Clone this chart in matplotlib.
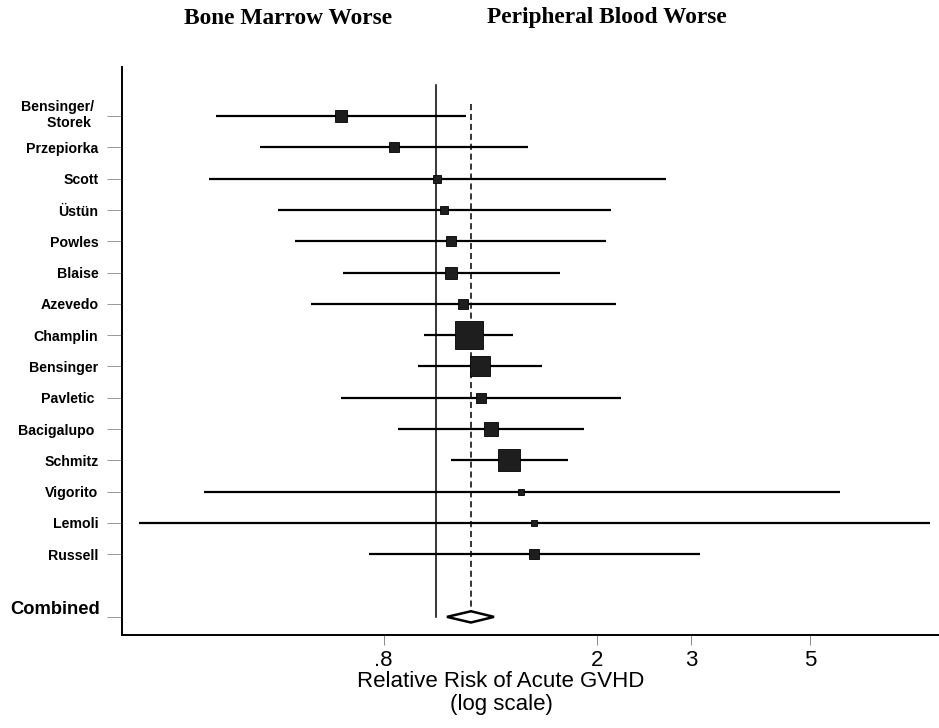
import matplotlib
matplotlib.use('Agg')
import matplotlib.pyplot as plt
from matplotlib.ticker import FixedLocator, NullLocator
import matplotlib.transforms as mtransforms
import numpy as np

studies = ['Bensinger/ \nStorek  ', 'Przepiorka', 'Scott', 'Üstün', 'Powles', 'Blaise',
           'Azevedo', 'Champlin', 'Bensinger', 'Pavletic ', 'Bacigalupo ', 'Schmitz',
           'Vigorito', 'Lemoli', 'Russell']
rr    = [0.666, 0.836, 1.006, 1.037, 1.068, 1.068, 1.125, 1.154, 1.210, 1.215, 1.268, 1.371, 1.443, 1.526, 1.526]
lower = [0.389, 0.470, 0.378, 0.508, 0.547, 0.672, 0.585, 0.951, 0.927, 0.666, 0.851, 1.068, 0.370, 0.280, 0.751]
upper = [1.139, 1.487, 2.69, 2.12, 2.08, 1.706, 2.17, 1.394, 1.579, 2.22, 1.891, 1.766, 5.68, 8.36, 3.11]
weight = [11, 10, 7, 8, 9, 12, 9, 27, 20, 9, 13, 21, 5, 5, 9]   # relative box size

combined_rr = 1.164
combined_lo = 1.050
combined_hi = 1.285

ticks = [0.8, 2, 3, 5]
tick_labels = ['.8', '2', '3', '5']

fig = plt.figure(figsize=(9.39, 7.28), dpi=100)
ax = fig.add_axes([0.1299, 0.1277, 0.8701, 0.7803])

ypos = np.arange(1, len(studies) + 1)
ycomb = len(studies) + 2

for y, r, lo, hi, w in zip(ypos, rr, lower, upper, weight):
    ax.plot([lo, hi], [y, y], color='black', lw=1.6, solid_capstyle='butt', zorder=2)
    ax.plot(r, y, marker='s', markersize=w * 0.74, color='#1e1e1e',
            markeredgecolor='black', markeredgewidth=0.6, zorder=3)

# line of no effect and pooled estimate
ax.plot([1, 1], [0.0, ycomb], color='black', lw=1.1, zorder=1)
ax.plot([combined_rr, combined_rr], [0.6, ycomb - 0.18], color='black', lw=1.1,
        ls=(0, (4, 2.5)), zorder=1)

dx = [combined_lo, combined_rr, combined_hi, combined_rr]
dy = [ycomb, ycomb - 0.18, ycomb, ycomb + 0.18]
ax.fill(dx, dy, facecolor='white', edgecolor='black', lw=1.8, zorder=4)

ax.set_xscale('log')
ax.set_xlim(0.260, 8.69)
ax.set_ylim(ycomb + 0.58, -0.57)

ax.xaxis.set_major_locator(FixedLocator(ticks))
ax.xaxis.set_minor_locator(NullLocator())
ax.set_xticklabels(tick_labels, fontsize=16, fontfamily='Liberation Sans')
ax.tick_params(axis='x', length=7.5, width=0.6, color='#777777', pad=3)

ax.set_yticks(list(ypos) + [ycomb])
ax.set_yticklabels(studies + ['Combined'], fontfamily='Liberation Sans',
                   fontweight='bold', fontsize=10.2, ha='right',
                   multialignment='right', linespacing=1.2)
ax.tick_params(axis='y', length=11, width=0.6, color='#888888', pad=6)
labels = ax.get_yticklabels()
labels[0].set_transform(labels[0].get_transform() +
                        mtransforms.ScaledTranslation(0, 4 / 100, fig.dpi_scale_trans))
comb_label = labels[-1]
comb_label.set_fontsize(13.2)
comb_label.set_transform(comb_label.get_transform() +
                         mtransforms.ScaledTranslation(2 / 100, 9 / 100, fig.dpi_scale_trans))

for s in ['top', 'right']:
    ax.spines[s].set_visible(False)
ax.spines['left'].set_linewidth(1.4)
ax.spines['bottom'].set_linewidth(1.4)

ax.set_xlabel('Relative Risk of Acute GVHD\n(log scale)', fontsize=16,
              fontfamily='Liberation Sans', linespacing=1.1)
ax.xaxis.set_label_coords(0.464, -0.064, transform=ax.transAxes)
ax.xaxis.label.set_va('top')

fig.text(288 / 939, 1 - 18 / 728, 'Bone Marrow Worse', ha='center', va='center',
         fontsize=16.8, fontweight='bold', fontfamily='Liberation Serif')
fig.text(607 / 939, 1 - 18 / 728, 'Peripheral Blood Worse', ha='center', va='center',
         fontsize=16.8, fontweight='bold', fontfamily='Liberation Serif')

fig.savefig('out.png', dpi=100)
